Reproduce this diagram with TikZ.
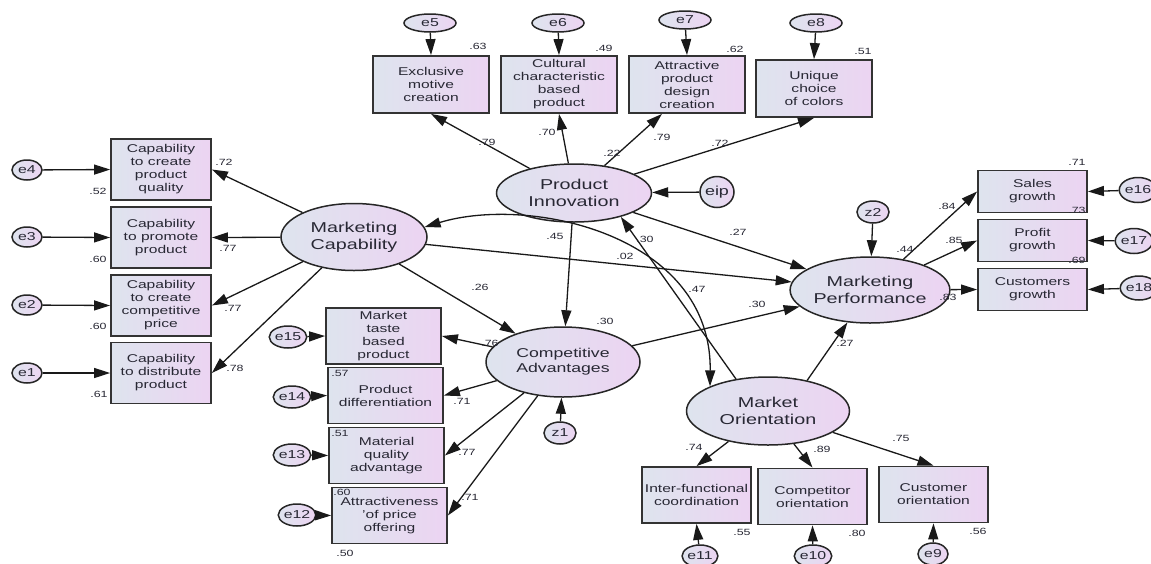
\documentclass[tikz,border=0pt]{standalone}
\usepackage{fontspec}
\setmainfont{Liberation Sans}[FakeStretch=1.38]
\usetikzlibrary{arrows.meta,shapes.geometric,calc}
\definecolor{gl}{RGB}{222,228,238}
\definecolor{gr}{RGB}{236,212,242}
\definecolor{tx}{RGB}{40,40,52}
\begin{document}
\begin{tikzpicture}[x=1pt,y=-1pt,
 box/.style={draw=black!80, line width=1.8pt, left color=gl, right color=gr, align=center, inner sep=0pt, font=\fontsize{11.3}{13}\selectfont, text=tx},
 lat/.style={ellipse, draw=black!85, line width=1.5pt, left color=gl, right color=gr, align=center, inner sep=0pt, font=\fontsize{14.3}{17}\selectfont, text=tx},
 err/.style={ellipse, draw=black!85, line width=1.5pt, left color=gl, right color=gr, inner sep=0pt, font=\fontsize{11.5}{12}\selectfont, text=tx},
 num/.style={font=\fontsize{9}{10}\selectfont, text=tx, inner sep=0pt},
 arr/.style={-{Triangle[length=16pt,width=10pt]}, line width=1.3pt, draw=black!90},
 darr/.style={{Triangle[length=16pt,width=10pt]}-{Triangle[length=16pt,width=10pt]}, line width=1.3pt, draw=black!90},
]
\fill[white] (0,0) rectangle (1151,563);
\useasboundingbox (0,0) rectangle (1151,563);

% ---------- indicator boxes ----------
\node[box,minimum width=100pt,minimum height=61pt] (b1) at (161,169.5) {Capability\\to create\\product\\quality};
\node[box,minimum width=100pt,minimum height=61pt] (b2) at (161,237.5) {Capability\\to promote\\product};
\node[box,minimum width=100pt,minimum height=61pt] (b3) at (161,305.5) {Capability\\to create\\competitive\\price};
\node[box,minimum width=100pt,minimum height=61pt] (b4) at (161,373) {Capability\\to distribute\\product};

\node[box,minimum width=116pt,minimum height=57pt] (t1) at (431,84.5) {Exclusive\\motive\\creation};
\node[box,minimum width=116pt,minimum height=57pt] (t2) at (559,84.5) {Cultural\\characteristic\\based\\product};
\node[box,minimum width=116pt,minimum height=57pt] (t3) at (687,84.5) {Attractive\\product\\design\\creation};
\node[box,minimum width=116pt,minimum height=57pt] (t4) at (814,88.5) {Unique\\choice\\of colors};

\node[box,minimum width=115pt,minimum height=56pt] (c1) at (383.5,336) {Market\\taste\\based\\product};
\node[box,minimum width=115pt,minimum height=56pt] (c2) at (385.5,395.5) {Product\\differentiation};
\node[box,minimum width=115pt,minimum height=56pt] (c3) at (386.5,455.5) {Material\\quality\\advantage};
\node[box,minimum width=115pt,minimum height=56pt] (c4) at (389.5,515.5) {Attractiveness\\'of price\\offering};

\node[box,minimum width=109pt,minimum height=56pt] (m1) at (696.5,495) {Inter-functional\\coordination};
\node[box,minimum width=109pt,minimum height=56pt] (m2) at (812.5,496.5) {Competitor\\orientation};
\node[box,minimum width=109pt,minimum height=56pt] (m3) at (933.5,494.5) {Customer\\orientation};

\node[box,minimum width=109pt,minimum height=42pt] (p1) at (1032.5,191.5) {Sales\\growth};
\node[box,minimum width=109pt,minimum height=42pt] (p2) at (1032.5,240.5) {Profit\\growth};
\node[box,minimum width=109pt,minimum height=42pt] (p3) at (1032.5,289.5) {Customers\\growth};

% ---------- latent variables ----------
\node[lat,minimum width=155pt,minimum height=58pt] (pi) at (574,193) {Product\\Innovation};
\node[lat,minimum width=146pt,minimum height=67pt] (mc) at (354,237) {Marketing\\Capability};
\node[lat,minimum width=154pt,minimum height=70pt,font=\fontsize{12.8}{15}\selectfont] (ca) at (563,362) {Competitive\\Advantages};
\node[lat,minimum width=135pt,minimum height=66pt] (mp) at (870,290) {Marketing\\Performance};
\node[lat,minimum width=163pt,minimum height=68pt] (mo) at (768,411) {Market\\Orientation};

% ---------- error terms ----------
\node[err,minimum width=52pt,minimum height=18pt] (e5) at (430,23) {e5};
\node[err,minimum width=52pt,minimum height=18pt] (e6) at (558,23) {e6};
\node[err,minimum width=52pt,minimum height=18pt] (e7) at (685,20) {e7};
\node[err,minimum width=52pt,minimum height=18pt] (e8) at (816,23) {e8};
\node[err,minimum width=30pt,minimum height=20pt] (e4) at (27,170) {e4};
\node[err,minimum width=30pt,minimum height=20pt] (e3) at (27,237) {e3};
\node[err,minimum width=30pt,minimum height=20pt] (e2) at (27,305) {e2};
\node[err,minimum width=30pt,minimum height=20pt] (e1) at (27,373) {e1};
\node[err,minimum width=28pt,minimum height=22pt] (e15) at (288,337) {e15};
\node[err,minimum width=28pt,minimum height=22pt] (e14) at (292,397) {e14};
\node[err,minimum width=28pt,minimum height=22pt] (e13) at (292,455) {e13};
\node[err,minimum width=28pt,minimum height=22pt] (e12) at (297,515) {e12};
\node[err,minimum width=34pt,minimum height=22pt] (e11) at (700,556) {e11};
\node[err,minimum width=34pt,minimum height=22pt] (e10) at (813,556) {e10};
\node[err,minimum width=30pt,minimum height=22pt] (e9) at (933,554) {e9};
\node[err,minimum width=34pt,minimum height=25pt] (e16) at (1138,190) {e16};
\node[err,minimum width=33pt,minimum height=25pt] (e17) at (1134,241) {e17};
\node[err,minimum width=34pt,minimum height=24pt] (e18) at (1139,288) {e18};
\node[err,minimum width=34pt,minimum height=31pt,font=\fontsize{13}{14}\selectfont] (eip) at (717,192) {eip};
\node[err,minimum width=32pt,minimum height=22pt] (z2) at (873,212) {z2};
\node[err,minimum width=32pt,minimum height=22pt] (z1) at (560,433) {z1};

% ---------- error arrows ----------
\draw[arr] (e4) -- (b1.west);
\draw[arr] (e3) -- (b2.west);
\draw[arr] (e2) -- (b3.west);
\draw[arr] (e1) -- (b4.west);
\draw[arr] (e5) -- (t1.north);
\draw[arr] (e6) -- (t2.north);
\draw[arr] (e7) -- (t3.north);
\draw[arr] (e8) -- (t4.north);
\draw[arr] (e15) -- (c1.west);
\draw[arr] (e14) -- (c2.west);
\draw[arr] (e13) -- (c3.west);
\draw[arr] (e12) -- (c4.west);
\draw[arr] (e11) -- (m1.south);
\draw[arr] (e10) -- (m2.south);
\draw[arr] (e9) -- (m3.south);
\draw[arr] (e16) -- (p1.east);
\draw[arr] (e17) -- (p2.east);
\draw[arr] (e18) -- (p3.east);
\draw[arr] (eip) -- (pi);
\draw[arr] (z2) -- (mp);
\draw[arr] (z1) -- (ca);

% ---------- loadings ----------
\draw[arr] (mc) -- (b1.east);
\draw[arr] (mc) -- (b2.east);
\draw[arr] (mc) -- (b3.east);
\draw[arr] (mc) -- (b4.east);
\draw[arr] (pi) -- (t1.south);
\draw[arr] (pi) -- (t2.south);
\draw[arr] (pi) -- ($(t3.south)+(-25,0)$);
\draw[arr] (pi) -- (t4.south);
\draw[arr] (ca) -- (c1.east);
\draw[arr] (ca) -- (c2.east);
\draw[arr] (ca) -- (c3.east);
\draw[arr] (ca) -- (c4.east);
\draw[arr] (mo) -- (m1.north);
\draw[arr] (mo) -- (m2.north);
\draw[arr] (mo) -- (m3.north);
\draw[arr] (mp) -- (p1.west);
\draw[arr] (mp) -- (p2.west);
\draw[arr] (mp) -- (p3.west);

% ---------- structural paths ----------
\draw[arr] (pi) -- (ca);
\draw[arr] (mc) -- (ca);
\draw[arr] (mc) -- (mp);
\draw[arr] (pi) -- (mp);
\draw[arr] (ca) -- (mp);
\draw[arr] (mo.38) -- (mp);
\draw[arr] (mo.135) -- (pi.-27);
\draw[darr] (mc.8) .. controls (530,195) and (712,235) .. (mo.157);

% ---------- numbers ----------
\node[num] (l1) at (224,162) {.72};
\node[num] (l2) at (98,191) {.52};
\node[num] (l3) at (228,248) {.77};
\node[num] (l4) at (98,259) {.60};
\node[num] (l5) at (233,308) {.77};
\node[num] (l6) at (98,326) {.60};
\node[num] (l7) at (235,368) {.78};
\node[num] (l8) at (99,394) {.61};
\node[num] (l9) at (478,46) {.63};
\node[num] (l10) at (604,48) {.49};
\node[num] (l11) at (735,49) {.62};
\node[num] (l12) at (863,51) {.51};
\node[num] (l13) at (487,142) {.79};
\node[num] (l14) at (547,132) {.70};
\node[num] (l15) at (612,153) {.22};
\node[num] (l16) at (662,137) {.79};
\node[num] (l17) at (720,143) {.72};
\node[num] (l18) at (555,236) {.45};
\node[num] (l19) at (625,256) {.02};
\node[num] (l20) at (480,287) {.26};
\node[num] (l21) at (605,321) {.30};
\node[num] (l22) at (645,239) {.30};
\node[num] (l23) at (697,289) {.47};
\node[num] (l24) at (738,232) {.27};
\node[num] (l25) at (757,304) {.30};
\node[num] (l26) at (905,249) {.44};
\node[num] (l27) at (947,206) {.84};
\node[num] (l28) at (954,240) {.85};
\node[num] (l29) at (948,297) {.83};
\node[num] (l30) at (1077,162) {.71};
\node[num] (l31) at (1077,210) {.73};
\node[num] (l32) at (1077,260) {.69};
\node[num] (l33) at (845,343) {.27};
\node[num] (l34) at (490,343) {.76};
\node[num] (l35) at (340,373) {.57};
\node[num] (l36) at (462,401) {.71};
\node[num] (l37) at (340,433) {.51};
\node[num] (l38) at (467,452) {.77};
\node[num] (l39) at (342,492) {.60};
\node[num] (l40) at (470,497) {.71};
\node[num] (l41) at (345,553) {.50};
\node[num] (l42) at (694,447) {.74};
\node[num] (l43) at (822,449) {.89};
\node[num] (l44) at (901,438) {.75};
\node[num] (l45) at (742,532) {.55};
\node[num] (l46) at (857,533) {.80};
\node[num] (l47) at (978,531) {.56};
\end{tikzpicture}
\end{document}
